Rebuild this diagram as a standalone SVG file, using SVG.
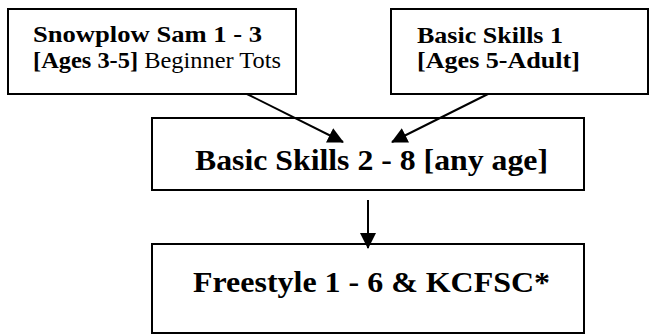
<svg xmlns="http://www.w3.org/2000/svg" width="649" height="335" viewBox="0 0 649 335">
<style>
.box{fill:#fff;stroke:#000;stroke-width:2}
.n{font-weight:normal}
.c{stroke:#000;stroke-width:2;fill:none}
</style>
<defs>
<marker id="ah" markerUnits="userSpaceOnUse" markerWidth="17" markerHeight="17" refX="15" refY="8" orient="auto" viewBox="0 0 17 17">
<path d="M0,0 L16,8 L0,16 Z" fill="#000"/>
</marker>
</defs>
<rect width="649" height="335" fill="#fff"/>
<g id="snowplow">
<rect class="box" x="8" y="9" width="288" height="85"/>
<text font-family="Times New Roman, Liberation Serif, DejaVu Serif, serif" font-weight="bold" x="33" y="42" font-size="24" textLength="229" lengthAdjust="spacingAndGlyphs">Snowplow Sam 1 - 3</text>
<text font-family="Times New Roman, Liberation Serif, DejaVu Serif, serif" font-weight="bold" x="33" y="68" font-size="24" textLength="248" lengthAdjust="spacingAndGlyphs">[Ages 3-5]<tspan class="n"> Beginner Tots</tspan></text>
</g>
<g id="basic1">
<rect class="box" x="391" y="9" width="257" height="85"/>
<text font-family="Times New Roman, Liberation Serif, DejaVu Serif, serif" font-weight="bold" x="417" y="43" font-size="24" textLength="146" lengthAdjust="spacingAndGlyphs">Basic Skills 1</text>
<text font-family="Times New Roman, Liberation Serif, DejaVu Serif, serif" font-weight="bold" x="417" y="68" font-size="24" textLength="163" lengthAdjust="spacingAndGlyphs">[Ages 5-Adult]</text>
</g>
<g id="basic2">
<rect class="box" x="152" y="118" width="432" height="72"/>
<text font-family="Times New Roman, Liberation Serif, DejaVu Serif, serif" font-weight="bold" x="195" y="170" font-size="30" textLength="353" lengthAdjust="spacingAndGlyphs">Basic Skills 2 - 8 [any age]</text>
</g>
<g id="freestyle">
<rect class="box" x="152" y="244" width="432" height="89"/>
<text font-family="Times New Roman, Liberation Serif, DejaVu Serif, serif" font-weight="bold" x="193" y="292" font-size="30" textLength="357" lengthAdjust="spacingAndGlyphs">Freestyle 1 - 6 &amp; KCFSC*</text>
</g>
<g id="connectors">
<line class="c" x1="247" y1="94" x2="343" y2="142" marker-end="url(#ah)"/>
<line class="c" x1="488" y1="94" x2="392" y2="142" marker-end="url(#ah)"/>
<line class="c" x1="368" y1="200" x2="368" y2="248" marker-end="url(#ah)"/>
</g>
</svg>
